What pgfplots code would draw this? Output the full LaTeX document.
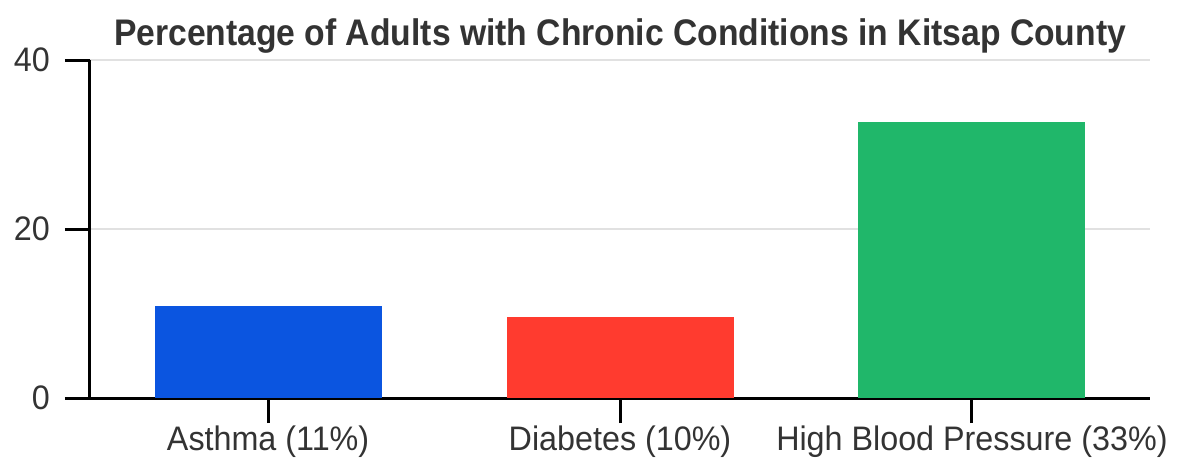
\documentclass[border=0pt]{standalone}
\usepackage{fontspec}
\setmainfont[FakeStretch=0.95, BoldFeatures={FakeStretch=0.91}]{Liberation Sans}
\usepackage{pgfplots}
\pgfplotsset{compat=1.18}
\definecolor{cblue}{RGB}{11,85,224}
\definecolor{cred}{RGB}{255,59,47}
\definecolor{cgreen}{RGB}{32,183,106}
\definecolor{txt}{RGB}{51,51,51}
\definecolor{grd}{RGB}{225,225,225}
\begin{document}
\begin{tikzpicture}
\useasboundingbox (-90pt,-65pt) rectangle (1098pt,398pt);
\begin{axis}[
  at={(0,0)}, anchor=south west,
  scale only axis, width=1060pt, height=338pt,
  xmin=-0.506, xmax=2.506, ymin=0, ymax=40,
  axis x line=bottom, axis y line=left,
  axis line style={-, line width=3pt, black},
  ytick={0,20,40}, xtick={0,1,2},
  xticklabels={Asthma (11\%), Diabetes (10\%), High Blood Pressure (33\%)},
  tick align=outside, major tick length=25pt,
  tick style={line width=3pt, black},
  ymajorgrids, grid style={grd, line width=2pt},
  tick label style={font=\fontsize{34}{36}\selectfont, text=txt, inner sep=0pt},
  /pgf/number format/assume math mode=true,
  yticklabel shift=15pt, xticklabel shift=3pt,
  title={Percentage of Adults with Chronic Conditions in Kitsap County},
  title style={font=\fontsize{37}{40}\selectfont\bfseries, text=txt, anchor=base, at={(0.5,1)}, yshift=9pt, inner sep=0pt},
  ybar, bar width=227pt,
  clip=false,
]
\addplot[fill=cblue, draw=none, bar shift=0pt] coordinates {(0,10.9)};
\addplot[fill=cred, draw=none, bar shift=0pt] coordinates {(1,9.6)};
\addplot[fill=cgreen, draw=none, bar shift=0pt] coordinates {(2,32.7)};
\end{axis}
\end{tikzpicture}
\end{document}
